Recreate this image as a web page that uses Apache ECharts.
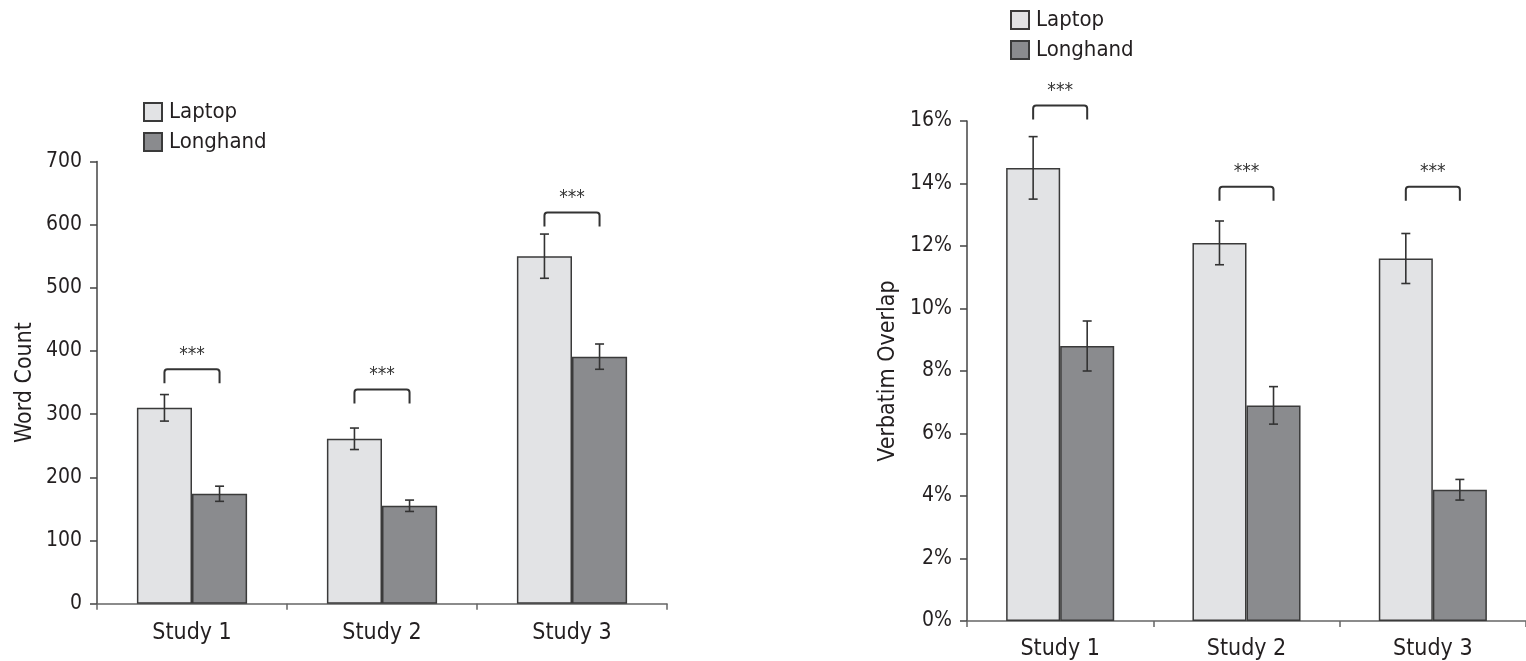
<!DOCTYPE html>
<html>
<head>
<meta charset="utf-8">
<script src="https://cdn.jsdelivr.net/npm/echarts@6/dist/echarts.min.js"></script>
<style>
  html, body { margin: 0; padding: 0; background: #fff; }
  #chart { width: 1526px; height: 661px; }
</style>
</head>
<body>
<div id="chart"></div>
<script>
// ---- data ----
const categories = ['Study 1', 'Study 2', 'Study 3'];
const seriesNames = ['Laptop', 'Longhand'];

const wordLaptop = [310, 261, 550];
const wordLonghand = [174, 155, 391];
const wordLaptopErr = [21, 17, 35];
const wordLonghandErr = [12, 9, 20];
const wordBracket = [371, 339, 619];

const verbLaptop = [14.5, 12.1, 11.6];
const verbLonghand = [8.8, 6.9, 4.2];
const verbLaptopErr = [1.0, 0.7, 0.8];
const verbLonghandErr = [0.8, 0.6, 0.33];
const verbBracket = [16.5, 13.9, 13.9];

const sigLabel = '***';

// ---- style ----
const FONT = "'Liberation Sans Narrow','DejaVu Sans Condensed','Arial Narrow',sans-serif";
const TXT = '#231f20';
const LAPTOP = '#e2e3e5';
const LONGHAND = '#8a8b8e';
const EDGE = '#3a3a3a';
const CAT_GAP = 0.42;
const HALF = (1 - CAT_GAP) / 4; // offset of each bar center from band center (fraction of band)

const chart = echarts.init(document.getElementById('chart'), null, { renderer: 'canvas' });

function errData(means, errs) {
  return means.map((m, i) => [i, m - errs[i], m + errs[i]]);
}

function errSeries(name, gridIdx, means, errs, side) {
  return {
    type: 'custom',
    name: name + ' err',
    xAxisIndex: gridIdx, yAxisIndex: gridIdx,
    clip: false, silent: true, z: 5,
    data: errData(means, errs),
    renderItem: function (params, api) {
      const i = api.value(0);
      const lo = api.coord([i, api.value(1)]);
      const hi = api.coord([i, api.value(2)]);
      const bw = api.size([1, 0])[0];
      const x = lo[0] + side * HALF * bw;
      const cap = 4.5;
      const st = { stroke: '#333', lineWidth: 1.6 };
      return {
        type: 'group',
        children: [
          { type: 'line', shape: { x1: x, y1: lo[1], x2: x, y2: hi[1] }, style: st },
          { type: 'line', shape: { x1: x - cap, y1: lo[1], x2: x + cap, y2: lo[1] }, style: st },
          { type: 'line', shape: { x1: x - cap, y1: hi[1], x2: x + cap, y2: hi[1] }, style: st }
        ]
      };
    }
  };
}

function bracketSeries(gridIdx, levels) {
  return {
    type: 'custom',
    name: 'bracket' + gridIdx,
    xAxisIndex: gridIdx, yAxisIndex: gridIdx,
    clip: false, silent: true, z: 6,
    data: levels.map((v, i) => [i, v]),
    renderItem: function (params, api) {
      const i = api.value(0);
      const p = api.coord([i, api.value(1)]);
      const bw = api.size([1, 0])[0];
      const l = p[0] - HALF * bw, r = p[0] + HALF * bw, y = p[1];
      const leg = 14, rr = 3;
      const d = 'M' + l + ' ' + (y + leg) + ' L' + l + ' ' + (y + rr) + ' Q' + l + ' ' + y + ' ' + (l + rr) + ' ' + y +
        ' L' + (r - rr) + ' ' + y + ' Q' + r + ' ' + y + ' ' + r + ' ' + (y + rr) + ' L' + r + ' ' + (y + leg);
      return {
        type: 'group',
        children: [
          { type: 'path', shape: { pathData: d }, style: { stroke: '#333', lineWidth: 2, fill: null } },
          { type: 'text', x: p[0], y: y - 5, style: { text: sigLabel, fill: '#333', font: '19px ' + FONT, align: 'center', verticalAlign: 'bottom' } }
        ]
      };
    }
  };
}

function barSeries(name, gridIdx, data, color) {
  return {
    type: 'bar', name: name,
    xAxisIndex: gridIdx, yAxisIndex: gridIdx,
    data: data,
    barGap: '0%', barCategoryGap: (CAT_GAP * 100) + '%',
    itemStyle: { color: color, borderColor: EDGE, borderWidth: 1.5 },
    emphasis: { disabled: true },
    z: 2
  };
}

function xAxis(gridIdx) {
  return {
    type: 'category', gridIndex: gridIdx, data: categories,
    axisLine: { lineStyle: { color: '#666', width: 1.5 } },
    axisTick: { show: true, length: 6, lineStyle: { color: '#666', width: 1.5 } },
    axisLabel: { color: TXT, fontFamily: FONT, fontSize: 23, margin: gridIdx === 0 ? 18 : 17 },
    splitLine: { show: false }
  };
}

function yAxis(gridIdx, opts) {
  return Object.assign({
    type: 'value', gridIndex: gridIdx,
    axisLine: { show: true, lineStyle: { color: '#444', width: 1.5 } },
    axisTick: { show: true, length: 7, lineStyle: { color: '#444', width: 1.5 } },
    splitLine: { show: false },
    nameLocation: 'middle', nameRotate: 90,
    nameTextStyle: { color: TXT, fontFamily: FONT, fontSize: 23 }
  }, opts);
}

const legendCommon = {
  orient: 'vertical',
  padding: 0,
  itemWidth: 18, itemHeight: 18, itemGap: 8,
  icon: 'rect',
  textStyle: { color: TXT, fontFamily: FONT, fontSize: 22, lineHeight: 20, padding: [0, 0, 0, 2] },
  selectedMode: false,
  data: seriesNames
};

const option = {
  animation: false,
  backgroundColor: '#fff',
  grid: [
    { left: 97, right: 1526 - 667, top: 161.4, bottom: 661 - 603.7 },
    { left: 967, right: 1526 - 1537, top: 121, bottom: 661 - 621 }
  ],
  legend: [
    Object.assign({ left: 143, top: 101 }, legendCommon),
    Object.assign({ left: 1010, top: 9 }, legendCommon)
  ],
  xAxis: [xAxis(0), xAxis(1)],
  yAxis: [
    yAxis(0, {
      min: 0, max: 700, interval: 100, name: 'Word Count', nameGap: 60,
      axisLabel: { color: TXT, fontFamily: FONT, fontSize: 21, margin: 15 }
    }),
    yAxis(1, {
      min: 0, max: 16, interval: 2, name: 'Verbatim Overlap', nameGap: 67,
      axisLabel: { color: TXT, fontFamily: FONT, fontSize: 21, margin: 15, formatter: '{value}%' }
    })
  ],
  series: [
    barSeries('Laptop', 0, wordLaptop, LAPTOP),
    barSeries('Longhand', 0, wordLonghand, LONGHAND),
    barSeries('Laptop', 1, verbLaptop, LAPTOP),
    barSeries('Longhand', 1, verbLonghand, LONGHAND),
    errSeries('Laptop', 0, wordLaptop, wordLaptopErr, -1),
    errSeries('Longhand', 0, wordLonghand, wordLonghandErr, 1),
    errSeries('Laptop', 1, verbLaptop, verbLaptopErr, -1),
    errSeries('Longhand', 1, verbLonghand, verbLonghandErr, 1),
    bracketSeries(0, wordBracket),
    bracketSeries(1, verbBracket)
  ]
};

chart.setOption(option);
</script>
</body>
</html>
